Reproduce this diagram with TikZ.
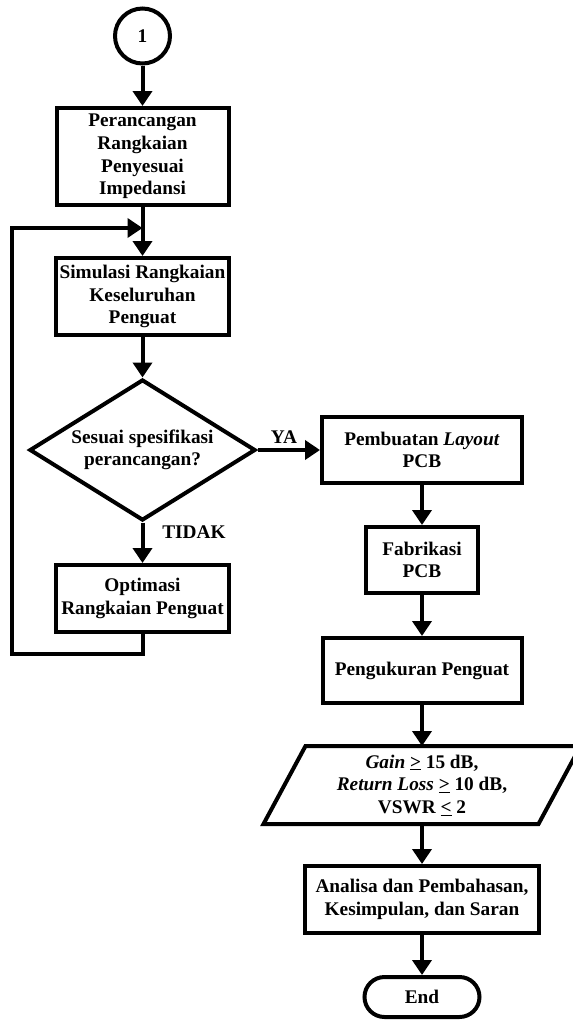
\documentclass[tikz,border=0pt]{standalone}
\usepackage{fontspec}
\setmainfont{Liberation Serif}
\usetikzlibrary{arrows.meta,shapes.geometric,calc}
\tikzset{
  base/.style={line width=4pt, font=\fontsize{19.3}{22.6}\selectfont\bfseries, align=center, inner sep=0pt},
  procbox/.style={base, draw, rectangle},
  decbox/.style={base, draw, diamond, minimum width=226pt, minimum height=141pt, shape aspect=1.6},
  conn/.style={draw, shape=circle, base, minimum size=55pt},
  termbox/.style={base, draw, rectangle, rounded corners=20pt, minimum width=115pt, minimum height=40pt},
  lbl/.style={font=\fontsize{19.3}{22.6}\selectfont\bfseries, inner sep=0pt},
  arr/.style={line width=4pt, -{Triangle[width=19pt,length=15pt]}},
  ln/.style={line width=4pt}
}
\begin{document}
\begin{tikzpicture}[x=1pt,y=-1pt]
\useasboundingbox (0,0) rectangle (573,1023);
\clip (0,0) rectangle (573,1023);
\node[conn] (c1) at (142.5,36) {1};
\node[procbox, minimum width=172pt, minimum height=97pt] (b1) at (142.5,156.5) {Perancangan\\Rangkaian\\Penyesuai\\Impedansi};
\node[procbox, minimum width=173pt, minimum height=77pt] (b2) at (142.5,296.5) {Simulasi Rangkaian\\Keseluruhan\\Penguat};
\node[decbox] (d1) at (142.5,450) {Sesuai spesifikasi\\perancangan?};
\node[procbox, minimum width=173pt, minimum height=67pt] (b3) at (142.5,598.5) {Optimasi\\Rangkaian Penguat};
\node[procbox, minimum width=200pt, minimum height=66pt] (b4) at (422,450) {Pembuatan \textit{Layout}\\PCB};
\node[procbox, minimum width=112pt, minimum height=66pt] (b5) at (422,560) {Fabrikasi\\PCB};
\node[procbox, minimum width=199pt, minimum height=65pt] (b6) at (422,670.5) {Pengukuran Penguat};
\node[base, minimum width=271pt, minimum height=74pt] (sp) at (422,785) {\textit{Gain} \underline{>} 15 dB,\\\textit{Return Loss} \underline{>} 10 dB,\\VSWR \underline{<} 2};
\draw[ln] ($(sp.south west)+(-21,0)$) -- ($(sp.north west)+(21,0)$) -- ($(sp.north east)+(21,0)$) -- ($(sp.south east)+(-21,0)$) -- cycle;
\node[procbox, minimum width=234pt, minimum height=67pt] (b7) at (422,899.5) {Analisa dan Pembahasan,\\Kesimpulan, dan Saran};
\node[termbox] (e) at (422,997) {End};
\node[lbl] (ya) at (284,437.5) {YA};
\node[lbl] (tidak) at (194,532) {TIDAK};
\coordinate (merge) at (142.5,228);
\coordinate (lbot) at (12,654);
\draw[arr] (c1) -- (b1);
\draw[ln] (b1) -- (merge);
\draw[arr] (merge) -- (b2);
\draw[arr] (b2) -- (d1);
\draw[arr] (d1) -- (b3);
\draw[arr] (d1) -- (b4);
\draw[arr] (b3.south) |- (lbot) |- (merge);
\draw[arr] (b4) -- (b5);
\draw[arr] (b5) -- (b6);
\draw[arr] (b6) -- (sp);
\draw[arr] (sp) -- (b7);
\draw[arr] (b7) -- (e);
\end{tikzpicture}
\end{document}
